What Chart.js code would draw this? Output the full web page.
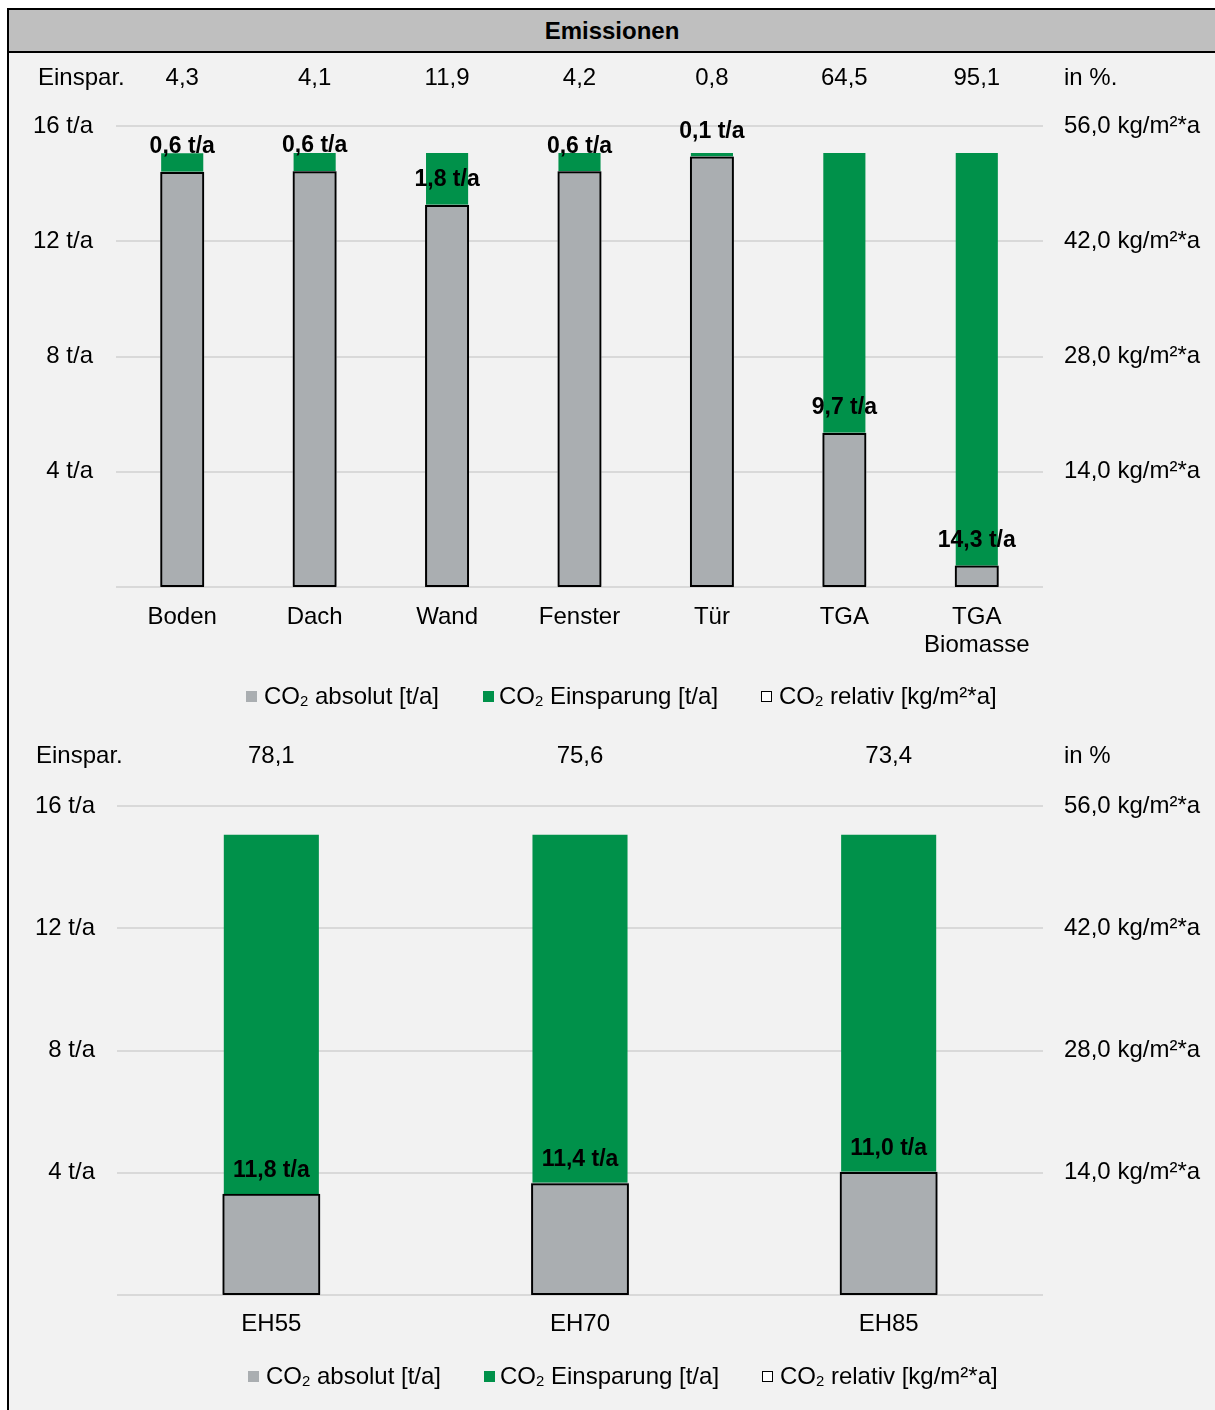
<!DOCTYPE html>
<html><head><meta charset="utf-8">
<script src="https://cdn.jsdelivr.net/npm/chart.js@4/dist/chart.umd.min.js"></script>
<style>
html,body{margin:0;padding:0;background:#fff;overflow:hidden;width:1215px;height:1410px;}
#frame{position:absolute;left:7px;top:8px;width:1206px;height:1400px;border-top:2px solid #000;border-left:2px solid #000;background:#f2f2f2;}
#head{position:absolute;left:0;top:0;width:1206px;height:41px;background:#bfbfbf;border-bottom:2px solid #000;font:bold 24px "Liberation Sans",Arial,sans-serif;text-align:center;line-height:41px;color:#000;}
canvas{position:absolute;left:0;}
#c1{top:43px;}
#c2{top:710px;}
.leg{position:absolute;height:30px;display:flex;align-items:center;font:24px "Liberation Sans",Arial,sans-serif;color:#000;white-space:nowrap;}
.box{display:inline-block;width:11px;height:11px;box-sizing:border-box;margin-right:7px;}
.leg sub{font-size:0.62em;vertical-align:baseline;position:relative;top:0.35em;line-height:0;}
</style>
</head><body>
<div id="frame">
  <div id="head">Emissionen</div>
  <canvas id="c1" width="1206" height="667"></canvas>
  <canvas id="c2" width="1206" height="690"></canvas>
  <div class="leg" style="left:237px;top:671px;"><span class="box" style="background:#aaaeb1"></span>CO<sub>2</sub>&nbsp;absolut [t/a]</div>
  <div class="leg" style="left:474px;top:671px;"><span class="box" style="background:#00914a;margin-right:5px"></span>CO<sub>2</sub>&nbsp;Einsparung [t/a]</div>
  <div class="leg" style="left:752px;top:671px;"><span class="box" style="border:1.5px solid #000;background:#fff"></span>CO<sub>2</sub>&nbsp;relativ [kg/m²*a]</div>
  <div class="leg" style="left:239px;top:1351px;"><span class="box" style="background:#aaaeb1"></span>CO<sub>2</sub>&nbsp;absolut [t/a]</div>
  <div class="leg" style="left:475px;top:1351px;"><span class="box" style="background:#00914a;margin-right:5px"></span>CO<sub>2</sub>&nbsp;Einsparung [t/a]</div>
  <div class="leg" style="left:753px;top:1351px;"><span class="box" style="border:1.5px solid #000;background:#fff"></span>CO<sub>2</sub>&nbsp;relativ [kg/m²*a]</div>
</div>
<script>
// ---- Data ----
const topCategories = ['Boden', 'Dach', 'Wand', 'Fenster', 'Tür', 'TGA', ['TGA', 'Biomasse']];
const topAbsolute   = [14.41, 14.44, 13.27, 14.43, 14.94, 5.35, 0.74];   // t/a
const topSavings    = [0.64, 0.62, 1.79, 0.63, 0.12, 9.71, 14.32];      // t/a
const topRelative   = [50.4, 50.5, 46.4, 50.5, 52.3, 18.7, 2.6];        // kg/m²*a
const topSavingPct  = [4.3, 4.1, 11.9, 4.2, 0.8, 64.5, 95.1];           // %

const bottomCategories = ['EH55', 'EH70', 'EH85'];
const bottomAbsolute   = [3.30, 3.67, 4.03];
const bottomSavings    = [11.76, 11.39, 11.03];
const bottomRelative   = [11.6, 12.8, 14.1];
const bottomSavingPct  = [78.1, 75.6, 73.4];

const leftTicks  = [0, 4, 8, 12, 16];
const rightTicks = [0, 14, 28, 42, 56];

const seriesNames = ['CO₂ absolut [t/a]', 'CO₂ Einsparung [t/a]', 'CO₂ relativ [kg/m²*a]'];

// ---- Styling ----
const FONT = "'Liberation Sans', Arial, sans-serif";
const GRAY = '#aaaeb1';
const GREEN = '#00914a';
Chart.defaults.font.family = FONT;
Chart.defaults.color = '#000';

const fmt = (v, d) => v.toFixed(d).replace('.', ',');

function buildChart(id, c) {
  const rowPlugin = {
    id: 'rows' + id,
    afterDatasetsDraw(chart) {
      const ctx = chart.ctx;
      ctx.save();
      ctx.fillStyle = '#000';
      ctx.textBaseline = 'middle';
      ctx.font = '24px ' + FONT;
      ctx.textAlign = 'left';
      ctx.fillText('Einspar.', c.rowLeftX, c.rowY);
      ctx.fillText(c.unitText, chart.chartArea.right + 21, c.rowY);
      ctx.textAlign = 'center';
      const xs = chart.scales.x;
      c.pct.forEach((p, i) => ctx.fillText(fmt(p, 1), xs.getPixelForValue(i), c.rowY));
      ctx.font = 'bold 23px ' + FONT;
      chart.getDatasetMeta(1).data.forEach((bar, i) => {
        ctx.fillText(fmt(c.savings[i], 1) + ' t/a', bar.x, bar.base - c.labelOffset);
      });
      ctx.restore();
    }
  };
  return new Chart(document.getElementById(id), {
    type: 'bar',
    data: {
      labels: c.labels,
      datasets: [
        { label: seriesNames[0], data: c.absolute, backgroundColor: GRAY, borderWidth: 0, yAxisID: 'y', order: 1,
          barPercentage: c.barW, categoryPercentage: 1 },
        { label: seriesNames[1], data: c.savings, backgroundColor: GREEN, borderWidth: 0, yAxisID: 'y', order: 1,
          barPercentage: c.greenW, categoryPercentage: 1 },
        { label: seriesNames[2], data: c.relative, backgroundColor: 'rgba(0,0,0,0)', borderColor: '#000', borderWidth: 2,
          borderSkipped: false, yAxisID: 'y2', order: 0, barPercentage: c.barW, categoryPercentage: 1 }
      ]
    },
    options: {
      responsive: false, animation: false, devicePixelRatio: 1,
      layout: { padding: { top: c.topPad, left: 0, right: 0, bottom: 0 } },
      plugins: { legend: { display: false }, tooltip: { enabled: false } },
      scales: {
        x: { stacked: true, grid: { display: false, drawTicks: false }, border: { display: false },
             ticks: { padding: c.xPad, font: { size: 24, lineHeight: 28 / 24 }, color: '#000', maxRotation: 0, autoSkip: false },
             afterFit(s) { s.height = c.xHeight; } },
        y: { stacked: true, position: 'left', min: leftTicks[0], max: leftTicks[leftTicks.length - 1],
             grid: { color: '#d9d9d9', lineWidth: 2, drawTicks: false }, border: { display: false },
             afterBuildTicks(s) { s.ticks = leftTicks.map(v => ({ value: v })); },
             ticks: { padding: c.yPad, font: { size: 24 }, color: '#000', callback: v => v === 0 ? '' : v + ' t/a' },
             afterFit(s) { s.width = c.yWidth; } },
        y2: { position: 'right', min: rightTicks[0], max: rightTicks[rightTicks.length - 1],
              grid: { display: false, drawTicks: false }, border: { display: false },
              afterBuildTicks(s) { s.ticks = rightTicks.map(v => ({ value: v })); },
              ticks: { padding: 21, font: { size: 24 }, color: '#000', callback: v => v === 0 ? '' : fmt(v, 1) + ' kg/m²*a' },
              afterFit(s) { s.width = 172; } }
      }
    },
    plugins: [rowPlugin]
  });
}

buildChart('c1', {
  labels: topCategories, absolute: topAbsolute, savings: topSavings, relative: topRelative, pct: topSavingPct,
  topPad: 73, xHeight: 133, yWidth: 107, yPad: 23, xPad: 16, barW: 0.332, greenW: 0.318,
  rowY: 25, rowLeftX: 29, unitText: 'in %.', labelOffset: 25
});
buildChart('c2', {
  labels: bottomCategories, absolute: bottomAbsolute, savings: bottomSavings, relative: bottomRelative, pct: bottomSavingPct,
  topPad: 86, xHeight: 115, yWidth: 108, yPad: 22, xPad: 15, barW: 0.317, greenW: 0.308,
  rowY: 36, rowLeftX: 27, unitText: 'in %', labelOffset: 23
});
</script>
</body></html>
